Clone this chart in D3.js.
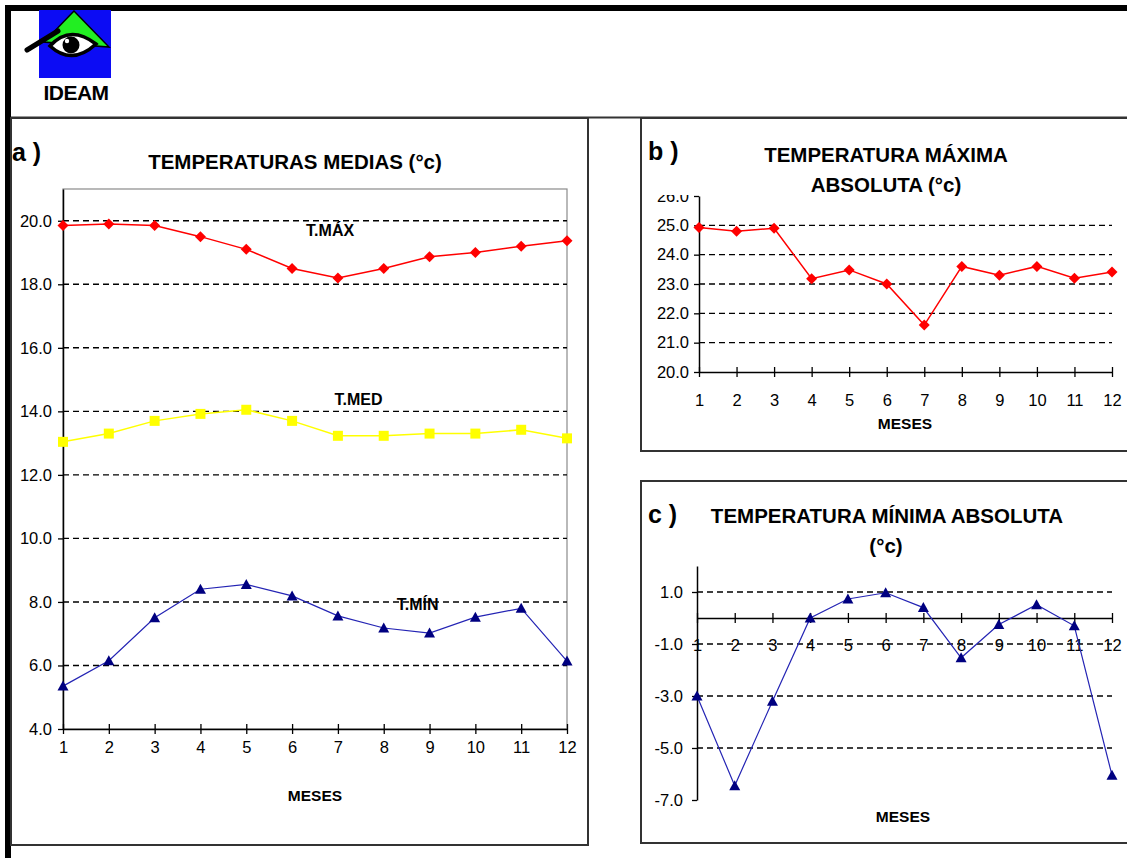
<!DOCTYPE html>
<html>
<head>
<meta charset="utf-8">
<script src="https://cdn.jsdelivr.net/npm/d3@7"></script>
<style>
  body { margin: 0; background: #fff; }
  svg { display: block; }
</style>
</head>
<body>
<script>
// ---- data ----
const meses = [1, 2, 3, 4, 5, 6, 7, 8, 9, 10, 11, 12];
const tMax = [19.85, 19.9, 19.85, 19.5, 19.1, 18.5, 18.2, 18.5, 18.87, 19.0, 19.2, 19.37];
const tMed = [13.04, 13.3, 13.7, 13.92, 14.05, 13.7, 13.23, 13.23, 13.3, 13.3, 13.42, 13.15];
const tMin = [5.35, 6.15, 7.5, 8.4, 8.55, 8.19, 7.56, 7.18, 7.02, 7.52, 7.8, 6.14];
const maxAbs = [24.93, 24.8, 24.9, 23.18, 23.48, 23.0, 21.6, 23.6, 23.3, 23.6, 23.2, 23.41];
const minAbs = [-3.0, -6.45, -3.2, 0.0, 0.73, 0.97, 0.4, -1.53, -0.25, 0.51, -0.3, -6.05];

const ticksA = [4, 6, 8, 10, 12, 14, 16, 18, 20];
const ticksB = [20, 21, 22, 23, 24, 25, 26];
const ticksC = [1, -1, -3, -5, -7];

const FONT = "'Liberation Sans', Arial, sans-serif";
const RED = "#ff0000", YEL = "#ffff00", NAVY = "#000080", BLUE_LINE = "#2424b4";

let svg = d3.select("body").append("svg")
    .attr("width", 1127)
    .attr("height", 858)
    .style("font-family", FONT);

// frame
svg.append("rect").attr("x", 5).attr("y", 5).attr("width", 1122).attr("height", 6).attr("fill", "#000");
svg.append("rect").attr("x", 5).attr("y", 5).attr("width", 6).attr("height", 853).attr("fill", "#000");
svg.append("line").attr("x1", 11).attr("x2", 1127).attr("y1", 117.5).attr("y2", 117.5)
    .attr("stroke", "#333").attr("stroke-width", 2);

// logo
let logo = svg.append("g");
logo.append("rect").attr("x", 39).attr("y", 10).attr("width", 72).attr("height", 68).attr("fill", "#0c0cf4");
logo.append("path").attr("d", "M74,11 L44,42 L109,47 Z").attr("fill", "#22ee22")
    .attr("stroke", "#000").attr("stroke-width", 1.5);
logo.append("path").attr("d", "M27,50 L58,31").attr("stroke", "#000").attr("stroke-width", 5)
    .attr("stroke-linecap", "round");
logo.append("path").attr("d", "M50,46 Q70,24 96,44 Q72,66 50,46 Z").attr("fill", "#fff")
    .attr("stroke", "#000").attr("stroke-width", 3.5);
logo.append("circle").attr("cx", 71).attr("cy", 45).attr("r", 8.5).attr("fill", "#000");
logo.append("circle").attr("cx", 67).attr("cy", 41).attr("r", 2.2).attr("fill", "#fff");
logo.append("text").attr("x", 76).attr("y", 100).attr("text-anchor", "middle")
    .attr("font-weight", "bold").attr("font-size", 21).attr("letter-spacing", -0.5).text("IDEAM");

// panels
function panel(x, y, w, h) {
    svg.append("rect").attr("x", x).attr("y", y).attr("width", w).attr("height", h)
        .attr("fill", "none").attr("stroke", "#333").attr("stroke-width", 2);
}
panel(11, 118, 577, 727);
panel(641, 118, 500, 333);
panel(641, 481, 500, 362);

function text(x, y, str, size, anchor, weight) {
    return svg.append("text").attr("x", x).attr("y", y).attr("font-size", size)
        .attr("text-anchor", anchor || "start").attr("font-weight", weight || "bold").text(str);
}

function grid(g, vals, x, y) {
    g.selectAll("line").data(vals).join("line")
        .attr("x1", x.range()[0]).attr("x2", x.range()[1])
        .attr("y1", d => y(d)).attr("y2", d => y(d))
        .attr("stroke", "#000").attr("stroke-width", 1.4).attr("stroke-dasharray", "6,4");
}

function xAxis(g, x, yPos, labelY) {
    g.attr("transform", `translate(0,${yPos})`)
     .call(d3.axisBottom(x).tickValues(meses).tickFormat(d3.format("d")).tickSizeOuter(0))
     .call(g => g.select(".domain").attr("stroke-width", 1.5))
     .call(g => g.selectAll(".tick line").attr("y1", -5).attr("y2", 5).attr("stroke-width", 1.3))
     .call(g => g.selectAll(".tick text").attr("y", labelY).attr("dy", 0)
         .attr("font-size", 16.5).attr("font-family", FONT).attr("fill", "#000"));
}

function yAxis(g, y, xPos, vals, pad) {
    g.attr("transform", `translate(${xPos},0)`)
     .call(d3.axisLeft(y).tickValues(vals).tickFormat(d => d.toFixed(1)).tickSize(5).tickPadding(pad).tickSizeOuter(0))
     .call(g => g.select(".domain").attr("stroke-width", 1.5))
     .call(g => g.selectAll(".tick line").attr("stroke-width", 1.3))
     .call(g => g.selectAll(".tick text").attr("font-size", 16.5).attr("font-family", FONT).attr("fill", "#000"));
}

const diamond = "M0,-5.5L5.5,0L0,5.5L-5.5,0Z";
const square = "M-5,-5H5V5H-5Z";
const triangle = "M0,-5.5L5.5,4.5H-5.5Z";

function series(vals, x, y, color, lineColor, shape, width) {
    let line = d3.line().x((d, i) => x(meses[i])).y(d => y(d));
    svg.append("path").datum(vals).attr("d", line)
        .attr("fill", "none").attr("stroke", lineColor).attr("stroke-width", width);
    svg.append("g").selectAll("path").data(vals).join("path")
        .attr("d", shape)
        .attr("transform", (d, i) => `translate(${x(meses[i])},${y(d)})`)
        .attr("fill", color);
}

// ---- chart a ----
let xa = d3.scaleLinear([1, 12], [63, 567]);
let ya = d3.scaleLinear([4, 21], [729, 189]);
svg.append("rect").attr("x", xa(1)).attr("y", ya(21)).attr("width", xa(12) - xa(1)).attr("height", ya(4) - ya(21))
    .attr("fill", "none").attr("stroke", "#8a8a8a").attr("stroke-width", 1.2);
grid(svg.append("g"), ticksA.slice(1), xa, ya);
xAxis(svg.append("g"), xa, ya(4), 24);
yAxis(svg.append("g"), ya, xa(1), ticksA, 6);
series(tMax, xa, ya, RED, RED, diamond, 1.5);
series(tMed, xa, ya, YEL, YEL, square, 1.5);
series(tMin, xa, ya, NAVY, BLUE_LINE, triangle, 1.2);
text(12, 161, "a )", 25);
text(295, 169, "TEMPERATURAS MEDIAS (°c)", 20.5, "middle");
text(xa(6.83), ya(19.72) + 6, "T.MÁX", 16, "middle");
text(xa(7.45), ya(14.4) + 6, "T.MED", 16, "middle");
text(xa(8.74), ya(7.95) + 6, "T.MÍN", 16, "middle");
text(xa(6.5), 801, "MESES", 15.5, "middle");

// ---- chart b ----
let xb = d3.scaleLinear([1, 12], [699, 1112]);
let yb = d3.scaleLinear([20, 26], [372, 196]);
// the top label is partly hidden under the title in the original
svg.append("clipPath").attr("id", "clipB").append("rect")
    .attr("x", 640).attr("y", 195).attr("width", 80).attr("height", 200);
grid(svg.append("g"), [21, 22, 23, 24, 25], xb, yb);
yAxis(svg.append("g").attr("clip-path", "url(#clipB)").append("g"), yb, xb(1), ticksB, 5);
xAxis(svg.append("g"), xb, yb(20), 34);
series(maxAbs, xb, yb, RED, RED, diamond, 1.5);
text(648, 160, "b )", 25);
text(886, 162, "TEMPERATURA MÁXIMA", 20.5, "middle");
text(886, 192, "ABSOLUTA (°c)", 20.5, "middle");
text(905, 429, "MESES", 15.5, "middle");

// ---- chart c ----
let xc = d3.scaleLinear([1, 12], [697, 1112]);
let yc = d3.scaleLinear([-7, 2], [800, 566]);
grid(svg.append("g"), [1, -1, -3, -5], xc, yc);
yAxis(svg.append("g"), yc, xc(1), ticksC, 9);
xAxis(svg.append("g"), xc, yc(0), 33);
series(minAbs, xc, yc, NAVY, BLUE_LINE, triangle, 1.2);
text(648, 523, "c )", 25);
text(887, 523, "TEMPERATURA MÍNIMA ABSOLUTA", 20.5, "middle");
text(886, 553, "(°c)", 20.5, "middle");
text(903, 822, "MESES", 15.5, "middle");
</script>
</body>
</html>
